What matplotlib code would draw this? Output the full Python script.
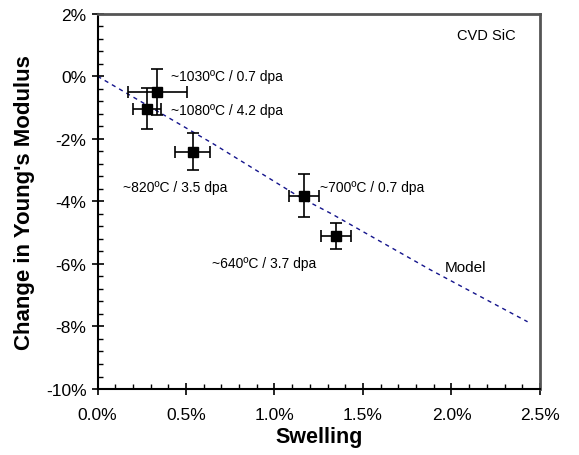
import matplotlib.pyplot as plt
from matplotlib.ticker import MultipleLocator, FuncFormatter

plt.rcParams['font.family'] = ['Liberation Sans', 'DejaVu Sans']
plt.rcParams['axes.unicode_minus'] = False

# measured points (percent)
swelling = [0.338, 0.281, 0.538, 1.167, 1.347]
modulus = [-0.51, -1.04, -2.41, -3.82, -5.11]
swelling_err = [0.168, 0.079, 0.10, 0.087, 0.085]
modulus_err = [0.73, 0.66, 0.58, 0.68, 0.41]
labels = ["~1030ºC / 0.7 dpa", "~1080ºC / 4.2 dpa", "~820ºC / 3.5 dpa",
          "~700ºC / 0.7 dpa", "~640ºC / 3.7 dpa"]
label_x = [0.414, 0.414, 0.146, 1.257, 0.645]
label_y = [0.0, -1.08, -3.55, -3.55, -5.96]

# model curve
model_x = [0.0, 0.654, 1.144, 1.323, 1.878, 2.43]
model_y = [0.0, -2.16, -3.87, -4.40, -6.18, -7.85]

fig = plt.figure(figsize=(5.79, 4.56), dpi=100)
ax = fig.add_axes([0.1684, 0.1447, 0.7642, 0.8231])

ax.plot(model_x, model_y, color='#14148c', lw=1.0, ls=(0, (3, 3)))
ax.errorbar(swelling, modulus, xerr=swelling_err, yerr=modulus_err, fmt='s',
            color='black', ms=7, elinewidth=1.2, capsize=4, capthick=1.2)

for t, lx, ly in zip(labels, label_x, label_y):
    ax.text(lx, ly, t, fontsize=10, va='center', ha='left')
ax.text(1.963, -6.10, "Model", fontsize=11, va='center', ha='left')
ax.text(2.03, 1.32, "CVD SiC", fontsize=10.5, va='center', ha='left')

ax.set_xlim(0, 2.5)
ax.set_ylim(-10, 2)
ax.xaxis.set_major_locator(MultipleLocator(0.5))
ax.xaxis.set_minor_locator(MultipleLocator(0.1))
ax.yaxis.set_major_locator(MultipleLocator(2))
ax.yaxis.set_minor_locator(MultipleLocator(0.4))
ax.xaxis.set_major_formatter(FuncFormatter(lambda v, p: "%.1f%%" % v))
ax.yaxis.set_major_formatter(FuncFormatter(lambda v, p: "%d%%" % round(v)))
ax.tick_params(which='major', direction='inout', length=8, width=1.2,
               labelsize=12.5)
ax.tick_params(axis='x', which='major', pad=9)
ax.tick_params(axis='y', which='major', pad=4)
ax.tick_params(which='minor', direction='in', length=3.5, width=1.0)

for s in ['left', 'bottom']:
    ax.spines[s].set_linewidth(1.5)
for s in ['top', 'right']:
    ax.spines[s].set_linewidth(2)
    ax.spines[s].set_color('#555555')

ax.set_xlabel('Swelling', fontsize=15.5, fontweight='bold', labelpad=3)
ax.set_ylabel("Change in Young's Modulus", fontsize=16, fontweight='bold', labelpad=8)

fig.savefig('out.png', dpi=100)
